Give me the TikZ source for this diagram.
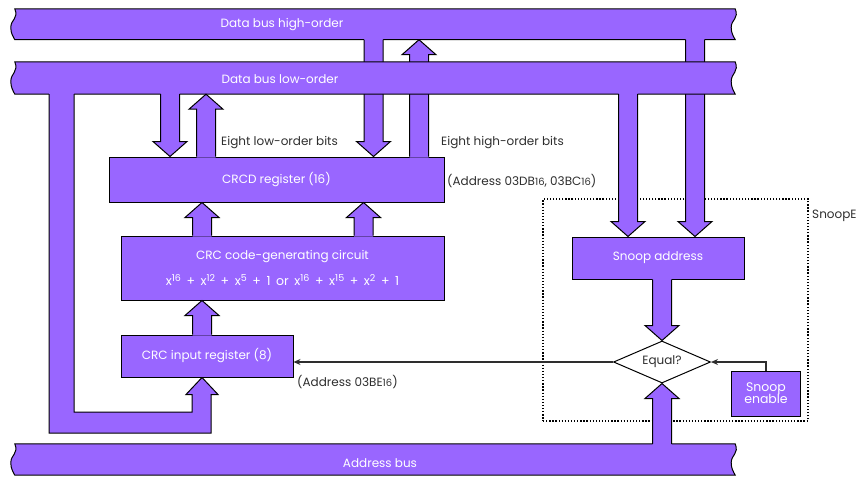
\documentclass[tikz,border=0pt]{standalone}
\usepackage{fontspec}
\setmainfont{Poppins}
\usetikzlibrary{arrows.meta,calc,shapes.geometric}
\definecolor{busfill}{HTML}{9966FF}
\definecolor{txtgray}{HTML}{2E2E2E}

\tikzset{
  bus/.style={draw=none, minimum width=720, minimum height=31, inner sep=0},
  busline/.style={fill=busfill, draw=black, line width=1pt},
  block/.style={fill=busfill, draw=black, line width=1pt, text=white, inner sep=0},
  pipeline/.style={draw=black, line width=1pt, line join=miter},
  note/.style={text=txtgray, anchor=west, inner sep=0},
  thinarrow/.style={draw=txtgray, line width=1.2pt, -{Stealth[length=7pt,width=6pt]}},
}

% bus with broken ends
\newcommand{\busshape}[1]{%
  \draw[busline] (#1.north west) -- (#1.north east)
    .. controls +(4,10) and +(0,-8) .. ([xshift=-4pt]$(#1.north east)!.6!(#1.south east)$)
    .. controls +(0,6) and +(-2,-4) .. (#1.south east)
    -- (#1.south west)
    .. controls +(-2,-4) and +(0,6) .. ([xshift=-4pt]$(#1.north west)!.6!(#1.south west)$)
    .. controls +(0,-8) and +(4,10) .. (#1.north west) -- cycle;}

% fat arrow at x=#1 from node anchor #2 to node anchor #3
\newcommand{\fatarrow}[3]{%
  \path[fill=busfill] let \p1=(#2), \p2=(#3), \n1={ifthenelse(\y2>\y1,-15,15)},
      \n2={ifthenelse(\y2>\y1,-1.2,1.2)} in
    (#1pt-9.5pt,\y1+\n2) -- (#1pt-9.5pt,\y2+\n1) -- (#1pt-17pt,\y2+\n1) -- (#1pt,\y2)
    -- (#1pt+17pt,\y2+\n1) -- (#1pt+9.5pt,\y2+\n1) -- (#1pt+9.5pt,\y1+\n2) -- cycle;
  \path[pipeline] let \p1=(#2), \p2=(#3), \n1={ifthenelse(\y2>\y1,-15,15)} in
    (#1pt-9.5pt,\y1) -- (#1pt-9.5pt,\y2+\n1) -- (#1pt-17pt,\y2+\n1) -- (#1pt,\y2)
    -- (#1pt+17pt,\y2+\n1) -- (#1pt+9.5pt,\y2+\n1) -- (#1pt+9.5pt,\y1);}

\newcommand{\hexsub}[1]{{\fontsize{10}{10}\selectfont #1}}
\newcommand{\pow}[1]{\raisebox{4.5pt}{\fontsize{9.5}{9.5}\selectfont #1}}

\begin{document}
\begin{tikzpicture}[x=1pt, y=-1pt, font=\fontsize{12}{14}\selectfont]
    \useasboundingbox (0,0) rectangle (856,477);

    % Bus outlines
    \node[bus, minimum height=30.5] (hibus) at (375,24.25) {};
    \node[bus, minimum height=32] (lobus) at (375,78) {};
    \node[bus] (addrbus) at (375,459.5) {};
    \busshape{hibus}

    % Snoop group
    \node[draw=black, line width=1.2pt, dash pattern=on 1.3pt off 1.8pt,
          minimum width=265, minimum height=222, inner sep=0] (snoopbox) at (675.5,310) {};

    % Blocks
    \node[block, minimum width=335, minimum height=45] (crcd) at (276.5,179.5) {CRCD register (16)};
    \node[block, minimum width=323, minimum height=64, align=center] (circ) at (282.5,268)
        {CRC code-generating circuit\\[11pt]
         {\fontsize{12.5}{14}\selectfont\spaceskip=5.6pt plus 1pt
          x\pow{16} + x\pow{12} + x\pow{5} + 1 or x\pow{16} + x\pow{15} + x\pow{2} + 1}};
    \node[block, minimum width=172, minimum height=42] (inreg) at (207,356) {CRC input register (8)};
    \node[block, minimum width=172, minimum height=42] (snoopaddr) at (658,258) {Snoop address};
    \node[block, minimum width=69, minimum height=45, align=center,
          font=\fontsize{12.5}{14}\selectfont] (enable) at (766,393.5) {Snoop\\[-2pt]enable};
    \node[shape=diamond, draw=black, fill=white, line width=1pt, aspect=2.3, inner sep=0,
          minimum width=97, minimum height=42, text=txtgray] (eq) at (662,362) {Equal?};

    % Pipes to and from the high-order bus
    \fatarrow{373.5}{hibus.south}{crcd.north}
    \fatarrow{695}{hibus.south}{snoopaddr.north}
    \fatarrow{419}{crcd.north}{hibus.south}

    \busshape{lobus}

    % Pipes to and from the low-order bus
    \fatarrow{170}{lobus.south}{crcd.north}
    \fatarrow{206}{crcd.north}{lobus.south}
    \fatarrow{628}{lobus.south}{snoopaddr.north}

    % Feed into the input register
    \path[fill=busfill] let \p1=(lobus.south), \p2=(inreg.south) in
        (49pt,\y1+1.2) -- (49pt,-433pt) -- (211pt,-433pt) -- (211pt,\y2-17pt) -- (218pt,\y2-17pt)
        -- (202pt,\y2) -- (186pt,\y2-17pt) -- (192pt,\y2-17pt) -- (192pt,-412pt) -- (74pt,-412pt)
        -- (74pt,\y1+1.2) -- cycle;
    \path[pipeline] let \p1=(lobus.south), \p2=(inreg.south) in
        (49pt,\y1) -- (49pt,-433pt) -- (211pt,-433pt) -- (211pt,\y2-17pt) -- (218pt,\y2-17pt)
        -- (202pt,\y2) -- (186pt,\y2-17pt) -- (192pt,\y2-17pt) -- (192pt,-412pt) -- (74pt,-412pt)
        -- (74pt,\y1);

    % Inside the CRC unit
    \fatarrow{202}{circ.north}{crcd.south}
    \fatarrow{363.5}{circ.north}{crcd.south}
    \fatarrow{202}{inreg.north}{circ.south}

    % Compare
    \fatarrow{662}{snoopaddr.south}{eq.north}
    \busshape{addrbus}
    \fatarrow{662}{addrbus.north}{eq.south}

    \draw[thinarrow] (eq.west) -- (eq.west -| inreg.east);
    \draw[thinarrow] (enable.north) -- (enable.north |- eq.east) -- (eq.east);

    % Bus labels
    \node[text=white] (hilabel) at (282,25) {Data bus high-order};
    \node[text=white] (lolabel) at (280,79) {Data bus low-order};
    \node[text=white] (addrlabel) at (380,463) {Address bus};

    % Notes
    \node[note] (lowbits) at (221,143) {Eight low-order bits};
    \node[note] (highbits) at (441,143) {Eight high-order bits};
    \node[note] (crcdaddr) at (447,181) {(Address 03DB\hexsub{16}, 03BC\hexsub{16})};
    \node[note] (inaddr) at (297,382) {(Address 03BE\hexsub{16})};
    \node[note] (snooplabel) at (812,216) {SnoopE};

\end{tikzpicture}
\end{document}
